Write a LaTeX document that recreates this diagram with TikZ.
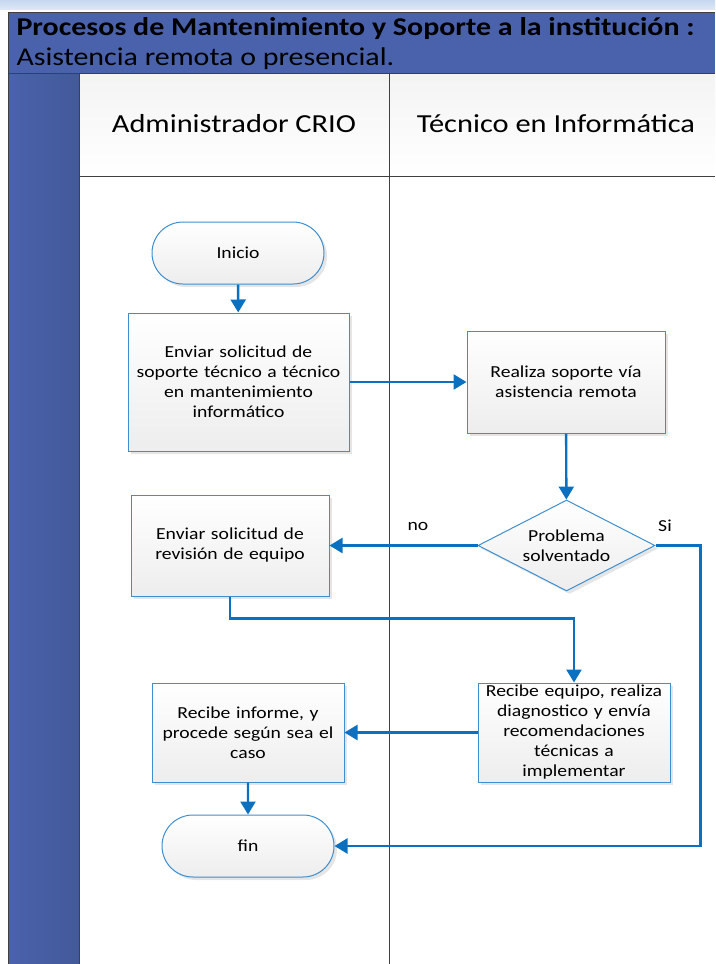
\documentclass[tikz,border=0pt]{standalone}
\usepackage{fontspec}
\setmainfont[FakeStretch=1.17]{Carlito}
\usetikzlibrary{calc,arrows.meta,shapes.geometric,shapes.misc,shadows}

\definecolor{banda}{HTML}{4A62AC}
\definecolor{bandaosc}{HTML}{43599A}
\definecolor{borde}{HTML}{3D8FD1}
\definecolor{flujo}{HTML}{0B70C0}
\definecolor{linea}{HTML}{404040}
\definecolor{celeste}{HTML}{C6D7EF}

\tikzset{
  caja/.style={draw=borde,line width=1pt,top color=white,bottom color=gray!14,
    drop shadow={shadow xshift=3pt,shadow yshift=-3pt,fill=gray!20,opacity=1},
    align=center,font=\fontsize{16.8}{20}\selectfont,inner sep=2pt},
  terminal/.style={caja,rounded rectangle,minimum width=176pt,minimum height=62pt},
  proceso/.style={caja,rectangle},
  decision/.style={caja,diamond,aspect=1.95,inner sep=0pt,minimum width=177pt,minimum height=91pt},
  flecha/.style={draw=flujo,line width=2.4pt,-{Triangle[width=15pt,length=13pt]}},
  rotulo/.style={font=\fontsize{16.8}{20}\selectfont}
}

\begin{document}
\begin{tikzpicture}[x=1pt,y=-1pt]
\useasboundingbox (0,0) rectangle (715,964);
% franja superior y marco del proceso
\shade[top color=celeste,bottom color=celeste!60] (0,0) rectangle (715,9);
\fill[banda] (8,12) rectangle (715,73);
\shade[left color=banda,right color=bandaosc] (8,73) rectangle (79,964);
\shade[top color=gray!9,bottom color=white] (79,73) rectangle (715,176);
\draw[linea,line width=1pt] (715,12) -- (8,12) -- (8,964) (8,73) -- (715,73) (79,73) -- (79,964) (79,176) -- (715,176) (389,73) -- (389,964);
\node[anchor=base west,text=black,font=\fontsize{25.6}{25}\selectfont\bfseries] (titulo) at (13,35) {Procesos de Mantenimiento y Soporte a la institución :};
\node[anchor=base west,text=black,font=\fontsize{25.6}{25}\selectfont] (subtitulo) at (13,65) {Asistencia remota o presencial.};
\node[anchor=base,font=\fontsize{26}{26}\selectfont] (carril1) at (234,132) {Administrador CRIO};
\node[anchor=base,font=\fontsize{26}{26}\selectfont] (carril2) at (556,132) {Técnico en Informática};

% actividades
\node[terminal] (inicio) at (238,253) {Inicio};
\node[proceso,minimum width=221pt,minimum height=138pt,text width=215pt] (solicitud) at (238.5,382) {Enviar solicitud de\\soporte técnico a técnico\\en mantenimiento\\informático};
\node[proceso,minimum width=198pt,minimum height=102pt,text width=190pt] (remota) at (566,382) {Realiza soporte vía\\asistencia remota};
\node[decision] (problema) at (566.5,545.5) {Problema\\solventado};
\node[proceso,minimum width=198pt,minimum height=101pt,text width=190pt] (revision) at (230,545.5) {Enviar solicitud de\\revisión de equipo};
\node[proceso,minimum width=192pt,minimum height=99pt,text width=186pt,inner sep=0pt] (diagnostico) at (574,732.5) {Recibe equipo, realiza\\diagnostico y envía\\recomendaciones\\técnicas a\\implementar};
\node[proceso,minimum width=192pt,minimum height=99pt,text width=186pt] (informe) at (248,732.5) {Recibe informe, y\\procede según sea el\\caso};
\node[terminal] (fin) at (248,846) {fin};

% conectores
\draw[flecha] (inicio) -- (solicitud);
\draw[flecha] (solicitud) -- (remota);
\draw[flecha] (remota) -- (problema);
\draw[flecha] (problema.west) -- (revision.east);
\draw[flecha] (revision.south) |- ($(diagnostico.north)+(0,-64)$) -- (diagnostico.north);
\draw[flecha] (diagnostico.west) -- (informe.east);
\draw[flecha] (informe) -- (fin);
\draw[flecha] (problema.east) -- ++(45,0) |- (fin.east);
\node[rotulo] (no) at (418,526) {no};
\node[rotulo] (si) at (665,526) {Si};
\end{tikzpicture}
\end{document}
